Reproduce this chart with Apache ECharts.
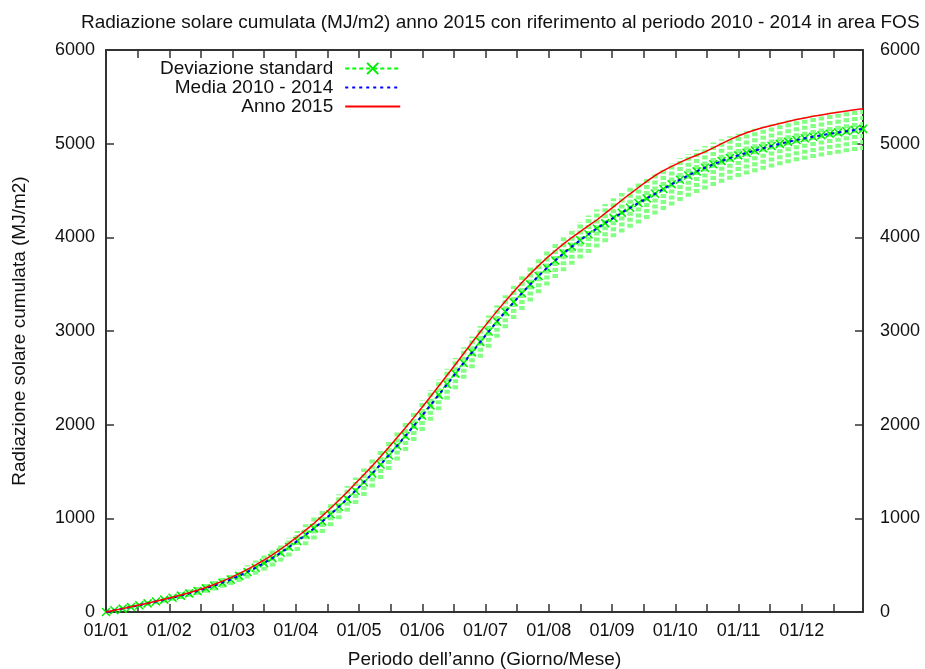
<!DOCTYPE html>
<html>
<head>
<meta charset="utf-8">
<script src="https://cdn.jsdelivr.net/npm/echarts@6/dist/echarts.min.js"></script>
<style>
  html, body { margin: 0; padding: 0; background: #fff; }
  #chart { width: 925px; height: 669px; }
</style>
</head>
<body>
<div id="chart"></div>
<script>
// Sampling step along the year (days between consecutive values)
const DAY_STEP = 4;

// Month tick labels (one every 365/12 days)
const monthLabels = ['01/01', '01/02', '01/03', '01/04', '01/05', '01/06',
                     '01/07', '01/08', '01/09', '01/10', '01/11', '01/12'];

// Cumulative mean 2010-2014 (MJ/m2), every DAY_STEP days from 1 January
const mean20102014 = [
  0, 18, 36, 54, 73, 92, 112, 132, 153, 175,
  199, 225, 252, 281, 313, 347, 386, 428, 473, 522,
  575, 632, 693, 758, 824, 893, 966, 1043, 1124, 1208,
  1295, 1385, 1478, 1574, 1673, 1775, 1880, 1987, 2096, 2206,
  2318, 2431, 2545, 2659, 2772, 2884, 2994, 3101, 3205, 3306,
  3404, 3498, 3588, 3673, 3753, 3829, 3901, 3969, 4033, 4094,
  4152, 4208, 4262, 4315, 4366, 4416, 4465, 4517, 4567, 4615,
  4661, 4704, 4743, 4780, 4814, 4846, 4875, 4902, 4927, 4951,
  4975, 4998, 5019, 5039, 5057, 5074, 5090, 5105, 5119, 5133,
  5146, 5158
];

// Standard deviation of the cumulative value (MJ/m2)
const stdDev = [
  0, 8, 14, 18, 22, 25, 28, 31, 34, 37,
  40, 43, 47, 51, 55, 60, 65, 70, 76, 82,
  88, 94, 100, 106, 112, 118, 123, 128, 133, 138,
  142, 146, 150, 153, 156, 158, 160, 162, 163, 164,
  165, 166, 167, 168, 169, 170, 172, 174, 176, 178,
  180, 182, 184, 186, 188, 190, 193, 196, 199, 202,
  205, 208, 211, 214, 217, 220, 222, 224, 226, 228,
  229, 230, 231, 232, 232, 232, 232, 231, 231, 230,
  230, 229, 229, 228, 228, 227, 227, 226, 226, 225,
  225, 225
];

// Cumulative 2015 (MJ/m2)
const year2015 = [
  0, 18, 36, 55, 75, 94, 115, 136, 158, 181,
  206, 233, 262, 293, 330, 367, 410, 455, 503, 555,
  610, 670, 735, 803, 874, 948, 1026, 1108, 1193, 1282,
  1375, 1465, 1560, 1658, 1760, 1862, 1968, 2075, 2185, 2298,
  2412, 2527, 2643, 2760, 2877, 2992, 3103, 3212, 3318, 3420,
  3518, 3610, 3698, 3780, 3857, 3930, 3998, 4062, 4124, 4185,
  4255, 4326, 4396, 4465, 4532, 4598, 4660, 4712, 4758, 4800,
  4840, 4876, 4912, 4955, 5000, 5043, 5082, 5117, 5146, 5172,
  5195, 5215, 5237, 5258, 5275, 5292, 5307, 5322, 5336, 5349,
  5361, 5373
];

const YEAR_END = 364;
const MONTH = 365 / 12;
const FONT = 'Liberation Sans, Arial, Helvetica, sans-serif';
const AXIS_COLOR = '#333';

const dayOf = i => i * DAY_STEP;
const meanPts = mean20102014.map((v, i) => [dayOf(i), v]);
const redPts = year2015.map((v, i) => [dayOf(i), v]);
const barPts = mean20102014.map((v, i) => [dayOf(i), v - stdDev[i], v + stdDev[i]]);

function monthLabel(v) {
  const k = Math.round(v / MONTH);
  if (Math.abs(v - k * MONTH) > 0.5 || k > 11) return '';
  return monthLabels[k];
}

const tickStyle = { show: true, inside: true, length: 8, lineStyle: { color: AXIS_COLOR, width: 1.5 } };
const axisLineStyle = { show: true, onZero: false, lineStyle: { color: AXIS_COLOR, width: 2 } };
const numText = { color: '#111', fontSize: 18, fontFamily: FONT };
const wordText = { color: '#111', fontSize: 19, fontFamily: FONT };

const xBase = {
  type: 'value', min: 0, max: YEAR_END, interval: MONTH / 2,
  splitLine: { show: false }, axisLine: axisLineStyle, axisTick: tickStyle
};
const yBase = {
  type: 'value', min: 0, max: 6000, interval: 1000,
  splitLine: { show: false }, axisLine: axisLineStyle, axisTick: tickStyle
};

// Legend swatches for the plain lines show the stroke only
const noMarker = { color: 'rgba(0,0,0,0)', borderWidth: 0 };

const chart = echarts.init(document.getElementById('chart'), null, { renderer: 'canvas' });
chart.setOption({
  animation: false,
  backgroundColor: '#fff',
  title: {
    text: 'Radiazione solare cumulata (MJ/m2) anno 2015 con riferimento al periodo 2010 - 2014 in area FOS',
    left: 76, top: 8,
    textStyle: Object.assign({ fontWeight: 'normal' }, wordText)
  },
  legend: {
    orient: 'vertical', align: 'right',
    left: 160, top: 59, padding: 0,
    itemWidth: 55, itemHeight: 14, itemGap: 0,
    textStyle: Object.assign({ lineHeight: 19, padding: [0, 7, 0, 0] }, wordText),
    data: [
      { name: 'Deviazione standard' },
      { name: 'Media 2010 - 2014', itemStyle: noMarker },
      { name: 'Anno 2015', itemStyle: noMarker }
    ]
  },
  grid: { left: 106, right: 62, top: 50, bottom: 57, containLabel: false, outerBoundsMode: 'none' },
  xAxis: [
    Object.assign({}, xBase, {
      position: 'bottom',
      axisLabel: Object.assign({ margin: 10, formatter: monthLabel }, numText),
      name: 'Periodo dell\u2019anno (Giorno/Mese)', nameLocation: 'middle', nameGap: 38,
      nameTextStyle: wordText
    }),
    Object.assign({}, xBase, { position: 'top', axisLabel: { show: false } })
  ],
  yAxis: [
    Object.assign({}, yBase, {
      position: 'left',
      axisLabel: Object.assign({ margin: 11, formatter: v => String(v) }, numText),
      name: 'Radiazione solare cumulata (MJ/m2)', nameLocation: 'middle', nameGap: 77,
      nameTextStyle: wordText
    }),
    Object.assign({}, yBase, {
      position: 'right',
      axisLabel: Object.assign({ margin: 17, formatter: v => String(v) }, numText)
    })
  ],
  series: [
    {
      type: 'custom', name: 'barre', z: 1, clip: true,
      data: barPts,
      encode: { x: 0, y: [1, 2] },
      renderItem: function (params, api) {
        const d = api.value(0);
        const lo = api.coord([d, api.value(1)]);
        const hi = api.coord([d, api.value(2)]);
        return {
          type: 'line',
          shape: { x1: lo[0], y1: lo[1], x2: hi[0], y2: hi[1] },
          style: { stroke: '#84ff84', lineWidth: 5.5, lineDash: [4, 2] }
        };
      }
    },
    {
      type: 'line', name: 'Deviazione standard', z: 2,
      data: meanPts,
      symbol: 'path://M0,0L10,10M10,0L0,10', symbolSize: 8,
      itemStyle: { color: 'rgba(0,0,0,0)', borderColor: '#00ee00', borderWidth: 1.5 },
      lineStyle: { color: '#00ff00', width: 1.5, type: [4, 3] }
    },
    {
      type: 'line', name: 'Media 2010 - 2014', z: 3,
      data: meanPts, symbol: 'none',
      itemStyle: { color: '#0000ff' },
      lineStyle: { color: '#0000ff', width: 2, type: [3, 4] }
    },
    {
      type: 'line', name: 'Anno 2015', z: 4,
      data: redPts, symbol: 'none',
      itemStyle: { color: '#ff0000' },
      lineStyle: { color: '#ff0000', width: 1.5 }
    }
  ]
});
</script>
</body>
</html>
